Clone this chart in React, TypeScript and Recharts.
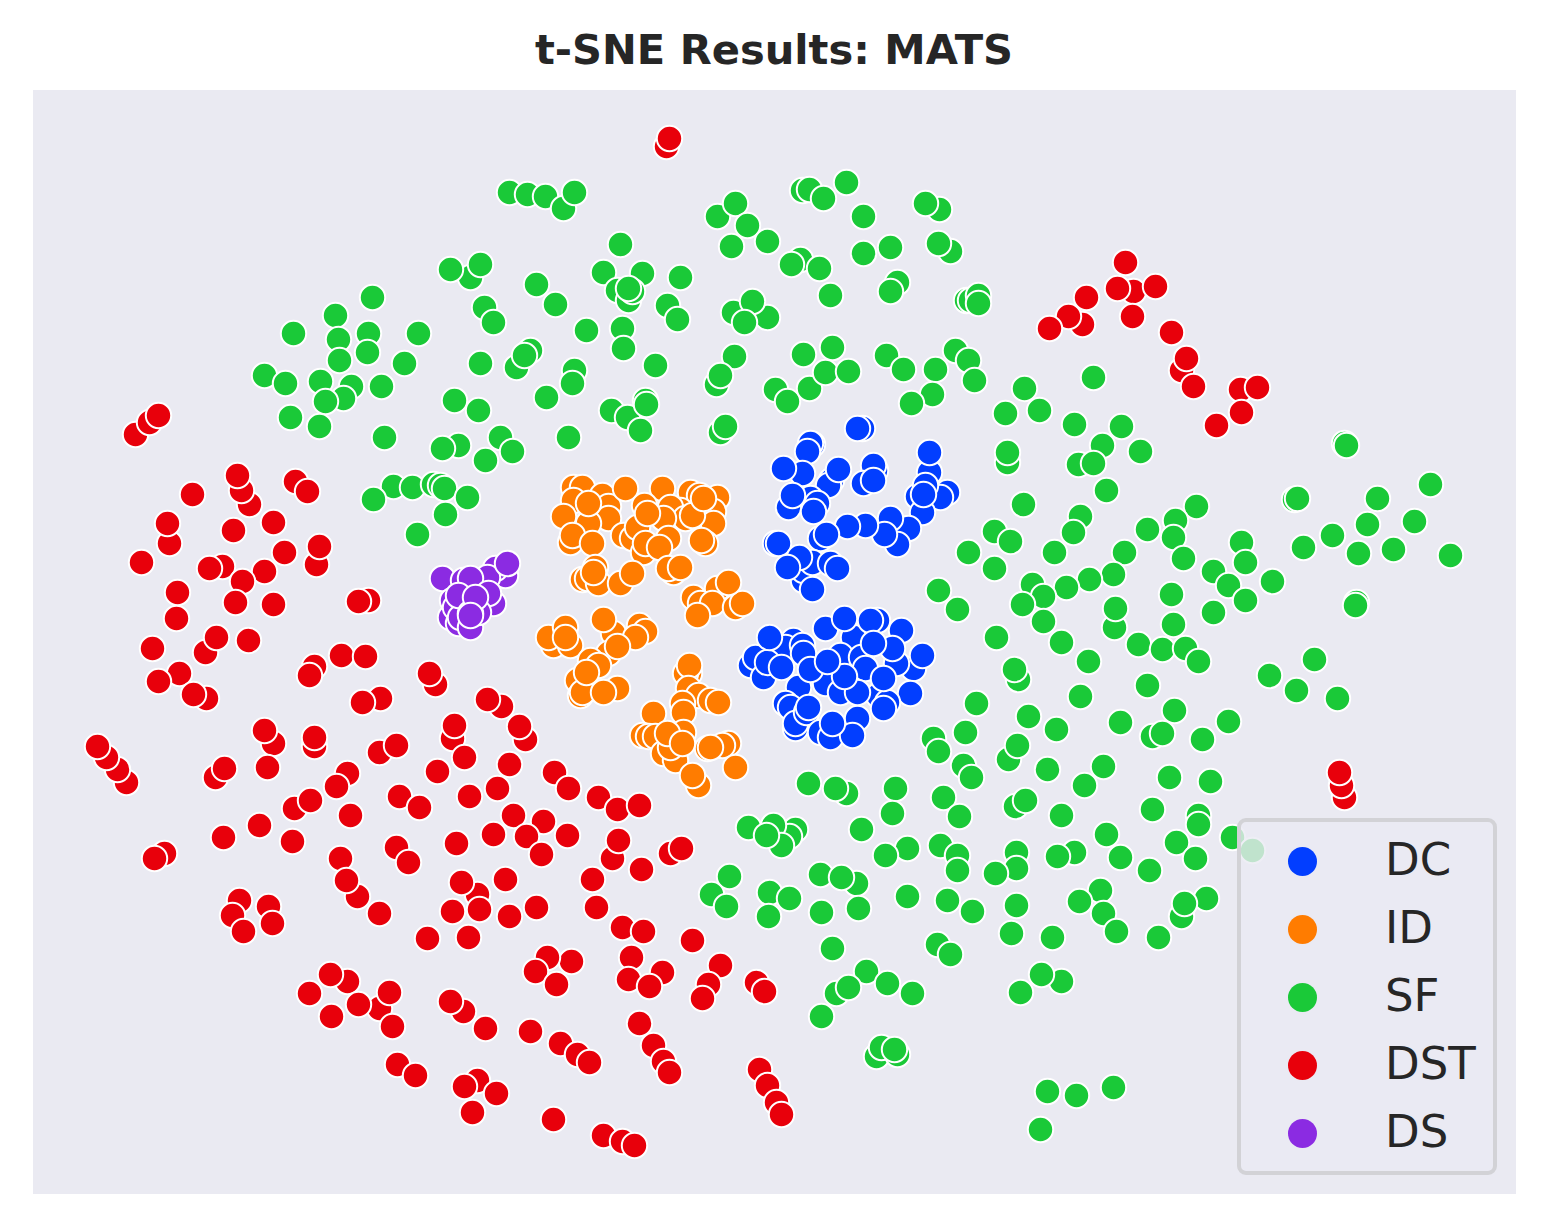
import { ScatterChart, Scatter, XAxis, YAxis, CartesianGrid, Legend } from "recharts";

// values (embedding units as plotted, y grows downward)
const dcPoints = [
  [862, 428], [857, 428], [929, 472], [929, 452], [812, 444], [810, 443], [807, 451], [802, 473], [783, 468],
  [831, 480], [828, 485], [838, 469], [875, 470], [873, 465], [863, 483], [873, 480], [810, 498], [817, 503],
  [788, 507], [792, 495], [813, 511], [917, 496], [947, 492], [940, 497], [922, 512], [925, 485], [923, 494],
  [908, 528], [890, 518], [897, 544], [884, 534], [865, 525], [847, 526], [820, 538], [826, 534], [775, 543],
  [778, 543], [803, 580], [803, 570], [812, 562], [799, 557], [787, 567], [830, 563], [837, 568], [812, 589],
  [793, 640], [785, 647], [802, 645], [750, 665], [755, 657], [763, 677], [853, 637], [840, 655], [877, 620],
  [901, 630], [913, 668], [896, 663], [892, 648], [861, 657], [865, 668], [825, 683], [798, 687], [840, 692],
  [910, 693], [878, 695], [887, 702], [883, 708], [785, 703], [790, 707], [795, 728], [795, 723], [806, 712],
  [820, 732], [830, 737], [857, 718], [852, 735], [832, 723], [808, 707], [857, 692], [883, 678], [844, 676],
  [803, 653], [810, 669], [827, 661], [767, 662], [781, 667], [769, 637], [825, 628], [844, 618], [870, 620],
  [873, 643], [922, 655],
];

const idPoints = [
  [573, 487], [582, 487], [602, 495], [573, 500], [608, 506], [608, 518], [563, 516], [588, 523], [570, 542],
  [572, 535], [592, 543], [588, 503], [625, 488], [662, 488], [690, 492], [699, 495], [717, 497], [713, 511],
  [713, 523], [680, 510], [670, 507], [685, 518], [692, 515], [703, 498], [644, 505], [663, 518], [623, 535],
  [632, 538], [637, 527], [668, 538], [643, 552], [645, 543], [647, 513], [659, 547], [705, 543], [701, 540],
  [673, 572], [668, 568], [680, 567], [582, 579], [587, 578], [598, 583], [595, 567], [620, 583], [593, 572],
  [632, 573], [717, 588], [693, 597], [700, 603], [712, 603], [735, 607], [742, 603], [728, 582], [697, 615],
  [553, 645], [570, 645], [548, 637], [565, 627], [565, 637], [639, 625], [645, 631], [613, 633], [635, 637],
  [603, 619], [608, 653], [617, 646], [590, 660], [598, 665], [577, 680], [617, 688], [580, 695], [582, 692],
  [603, 692], [586, 672], [689, 673], [685, 673], [689, 665], [688, 688], [698, 695], [710, 700], [718, 702],
  [682, 703], [653, 713], [683, 712], [642, 735], [648, 736], [655, 736], [663, 753], [675, 760], [670, 747],
  [683, 732], [667, 733], [682, 743], [728, 743], [722, 745], [707, 748], [710, 747], [735, 767], [698, 785],
  [692, 775],
];

const sfPoints = [
  [509, 192], [527, 194], [545, 196], [563, 208], [574, 192], [717, 216], [735, 203], [747, 225], [731, 246],
  [767, 241], [802, 190], [809, 189], [823, 198], [846, 182], [863, 216], [939, 209], [925, 203], [950, 251],
  [938, 243], [890, 247], [863, 253], [800, 259], [791, 264], [819, 268], [897, 282], [890, 291], [830, 295],
  [620, 244], [603, 272], [642, 273], [680, 277], [617, 290], [628, 300], [632, 291], [628, 288], [555, 304],
  [536, 284], [470, 277], [450, 269], [480, 264], [484, 307], [493, 322], [372, 297], [335, 315], [293, 333],
  [338, 339], [368, 333], [418, 333], [367, 352], [339, 360], [404, 363], [264, 375], [285, 383], [320, 381],
  [351, 386], [381, 386], [343, 398], [325, 401], [290, 417], [319, 426], [384, 437], [586, 330], [622, 328],
  [623, 348], [655, 365], [667, 305], [677, 319], [733, 312], [767, 317], [752, 301], [744, 322], [966, 300],
  [970, 300], [978, 295], [978, 303], [516, 367], [530, 350], [524, 355], [480, 363], [574, 370], [572, 383],
  [546, 397], [454, 400], [478, 410], [611, 410], [627, 417], [645, 400], [646, 404], [640, 430], [568, 437],
  [500, 437], [512, 451], [485, 460], [458, 445], [442, 448], [734, 356], [716, 384], [720, 375], [775, 389],
  [787, 401], [809, 388], [803, 354], [832, 347], [825, 372], [848, 371], [886, 355], [903, 369], [935, 369],
  [955, 350], [968, 360], [974, 380], [932, 394], [911, 403], [720, 432], [725, 426], [1093, 377], [1024, 388],
  [1005, 413], [1039, 410], [1074, 424], [1121, 426], [1102, 445], [1140, 451], [1078, 464], [1093, 463],
  [1007, 462], [1007, 452], [1106, 490], [1023, 504], [393, 486], [412, 487], [433, 484], [440, 485], [444, 488],
  [467, 497], [373, 499], [445, 514], [417, 534], [1344, 443], [1346, 445], [1294, 499], [1297, 498], [1377, 498],
  [1430, 484], [1196, 506], [1175, 520], [1147, 529], [1173, 537], [1080, 516], [1073, 532], [994, 531], [1010, 541],
  [968, 552], [1054, 552], [1124, 552], [1183, 558], [1241, 542], [1245, 562], [1213, 571], [1228, 585], [1272, 581],
  [1245, 600], [1213, 612], [1303, 547], [1332, 535], [1367, 524], [1414, 521], [1358, 553], [1393, 549], [1450, 555],
  [1356, 602], [1355, 605], [994, 568], [1113, 574], [1089, 579], [1066, 587], [1032, 584], [1043, 596], [1022, 604],
  [938, 590], [957, 609], [1171, 594], [1114, 627], [1115, 608], [1173, 624], [1043, 621], [996, 637], [1061, 642],
  [1138, 644], [1162, 649], [1185, 648], [1198, 661], [1088, 661], [1018, 679], [1014, 669], [1080, 696], [1147, 685],
  [976, 703], [1269, 675], [1314, 659], [1296, 690], [1337, 698], [1028, 716], [1056, 729], [1120, 722], [1174, 710],
  [1228, 721], [1152, 736], [1162, 733], [1202, 739], [965, 732], [933, 738], [938, 751], [1008, 759], [1017, 745],
  [963, 765], [971, 777], [1047, 769], [1103, 766], [1084, 785], [1169, 777], [1210, 781], [808, 783], [846, 793],
  [835, 788], [895, 788], [892, 813], [943, 797], [959, 816], [1015, 806], [1025, 800], [1061, 815], [1152, 809],
  [1198, 815], [1198, 824], [1106, 834], [1176, 842], [1232, 837], [1252, 850], [748, 827], [795, 829], [789, 836],
  [773, 825], [781, 845], [766, 835], [861, 829], [940, 845], [907, 848], [885, 855], [957, 855], [957, 870],
  [1016, 852], [1016, 868], [1074, 852], [1057, 856], [1120, 857], [1195, 858], [1149, 870], [995, 873], [1016, 905],
  [729, 876], [711, 894], [726, 906], [769, 892], [789, 898], [768, 916], [820, 874], [856, 883], [841, 877],
  [907, 896], [947, 900], [972, 911], [858, 908], [821, 912], [1100, 890], [1079, 901], [1103, 913], [1206, 898],
  [1181, 916], [1184, 903], [1116, 931], [1158, 937], [1052, 937], [1011, 933], [937, 944], [950, 954], [832, 948],
  [866, 971], [887, 983], [912, 993], [836, 993], [848, 987], [821, 1016], [1020, 992], [1061, 981], [1041, 974],
  [876, 1056], [897, 1054], [881, 1047], [894, 1049], [1047, 1091], [1076, 1095], [1113, 1087], [1040, 1129],
];

const dstPoints = [
  [666, 146], [669, 138], [1125, 262], [1133, 291], [1117, 288], [1155, 286], [1086, 297], [1082, 324], [1068, 316],
  [1049, 328], [1132, 316], [1171, 332], [1181, 370], [1186, 358], [1193, 386], [1240, 389], [1257, 387], [1241, 412],
  [1216, 425], [1344, 797], [1341, 785], [1339, 772], [135, 434], [149, 422], [158, 415], [249, 504], [241, 490],
  [237, 475], [192, 494], [295, 481], [307, 491], [169, 543], [167, 523], [233, 530], [273, 522], [284, 552], [316, 564],
  [319, 546], [141, 562], [222, 566], [209, 568], [264, 571], [242, 581], [177, 592], [235, 602], [273, 604], [176, 618],
  [368, 600], [358, 601], [205, 652], [216, 637], [248, 640], [152, 648], [179, 673], [158, 681], [206, 698], [193, 694],
  [314, 666], [309, 675], [341, 655], [365, 656], [435, 684], [429, 673], [380, 698], [362, 702], [501, 706], [487, 699],
  [525, 739], [519, 726], [452, 738], [454, 725], [273, 743], [264, 730], [314, 746], [314, 737], [379, 752], [396, 745],
  [126, 782], [117, 769], [106, 757], [97, 746], [215, 777], [224, 768], [267, 767], [464, 757], [509, 764], [437, 771],
  [347, 773], [336, 786], [554, 772], [568, 788], [497, 788], [469, 796], [399, 796], [419, 807], [294, 808], [310, 800],
  [350, 815], [598, 797], [617, 809], [639, 805], [513, 815], [543, 821], [493, 834], [526, 836], [567, 835], [541, 854],
  [456, 843], [396, 847], [408, 862], [259, 825], [223, 837], [292, 841], [340, 858], [164, 853], [154, 858], [612, 858],
  [618, 840], [670, 853], [681, 848], [641, 869], [357, 896], [346, 880], [379, 913], [477, 894], [461, 882], [505, 879],
  [592, 879], [239, 900], [268, 906], [232, 915], [272, 923], [243, 931], [452, 911], [479, 909], [509, 916], [536, 907],
  [596, 907], [622, 927], [643, 931], [427, 938], [468, 937], [692, 940], [571, 961], [547, 957], [535, 971], [556, 984],
  [631, 957], [628, 979], [662, 972], [649, 986], [720, 965], [708, 984], [702, 998], [756, 982], [764, 991], [347, 981],
  [330, 974], [309, 993], [379, 1008], [389, 992], [358, 1004], [331, 1016], [392, 1026], [463, 1011], [450, 1001],
  [485, 1028], [530, 1031], [560, 1043], [577, 1054], [589, 1062], [639, 1023], [653, 1045], [663, 1061], [669, 1072],
  [397, 1064], [415, 1075], [477, 1080], [464, 1086], [496, 1093], [472, 1112], [553, 1119], [603, 1135], [622, 1141],
  [634, 1145], [759, 1069], [767, 1085], [776, 1102], [781, 1114],
];

const dsPoints = [
  [442, 578], [505, 575], [495, 568], [487, 577], [507, 563], [463, 580], [470, 578], [493, 603], [488, 593], [452, 600],
  [450, 617], [455, 607], [458, 623], [460, 617], [470, 627], [458, 595], [478, 612], [470, 613], [475, 597], [470, 615],
];

const categories = ["DC", "ID", "SF", "DST", "DS"];
const colors = ["#023EFF", "#FF7C00", "#1AC938", "#E8000B", "#8B2BE2"];
const seriesPoints = [dcPoints, idPoints, sfPoints, dstPoints, dsPoints];

const xDomain = [32.5, 1515.5];
const yDomain = [89.5, 1193.5];

const toRows = (points: number[][]) => points.map(([x, y]) => ({ x, y }));

function Dot(props: any) {
  return <circle cx={props.cx} cy={props.cy} r={12.7} fill={props.fill} stroke="#fff" strokeWidth={2} />;
}

function LegendBox() {
  return (
    <div
      style={{
        width: 260,
        height: 357,
        boxSizing: "border-box",
        background: "rgba(234,234,242,0.8)",
        border: "4px solid #D2D2D6",
        borderRadius: 9,
        position: "relative",
        fontFamily: "'DejaVu Sans', sans-serif",
      }}
    >
      {categories.map((name, i) => (
        <div key={name}>
          <span
            style={{
              position: "absolute",
              left: 46.5,
              top: 24.5 + i * 68,
              width: 29,
              height: 29,
              borderRadius: "50%",
              background: colors[i],
            }}
          />
          <span
            style={{
              position: "absolute",
              left: 144,
              top: 12 + i * 68,
              fontSize: 45,
              lineHeight: "52px",
              color: "#262626",
            }}
          >
            {name}
          </span>
        </div>
      ))}
    </div>
  );
}

export default function App() {
  return (
    <div style={{ position: "absolute", left: 0, top: 0, width: 1548, height: 1226, background: "#fff" }}>
      <div
        style={{
          position: "absolute",
          left: 0,
          width: 1548,
          top: 25,
          textAlign: "center",
          fontFamily: "'DejaVu Sans', sans-serif",
          fontWeight: "bold",
          fontSize: 41.6,
          lineHeight: "50px",
          color: "#262626",
        }}
      >
        t-SNE Results: MATS
      </div>
      <ScatterChart width={1548} height={1226} margin={{ top: 90, right: 32, bottom: 32, left: 33 }} style={{ position: "absolute" }}>
        <CartesianGrid fill="#EAEAF2" stroke="none" horizontal={false} vertical={false} />
        <XAxis type="number" dataKey="x" domain={xDomain} hide />
        <YAxis type="number" dataKey="y" domain={yDomain} reversed hide />
        {categories.map((name, i) => (
          <Scatter
            key={name}
            name={name}
            data={toRows(seriesPoints[i])}
            fill={colors[i]}
            shape={Dot}
            isAnimationActive={false}
          />
        ))}
        <Legend
          layout="vertical"
          align="center"
          verticalAlign="middle"
          itemSorter={null}
          content={() => <LegendBox />}
          wrapperStyle={{ left: 1237, top: 818, width: 260 }}
        />
      </ScatterChart>
    </div>
  );
}
